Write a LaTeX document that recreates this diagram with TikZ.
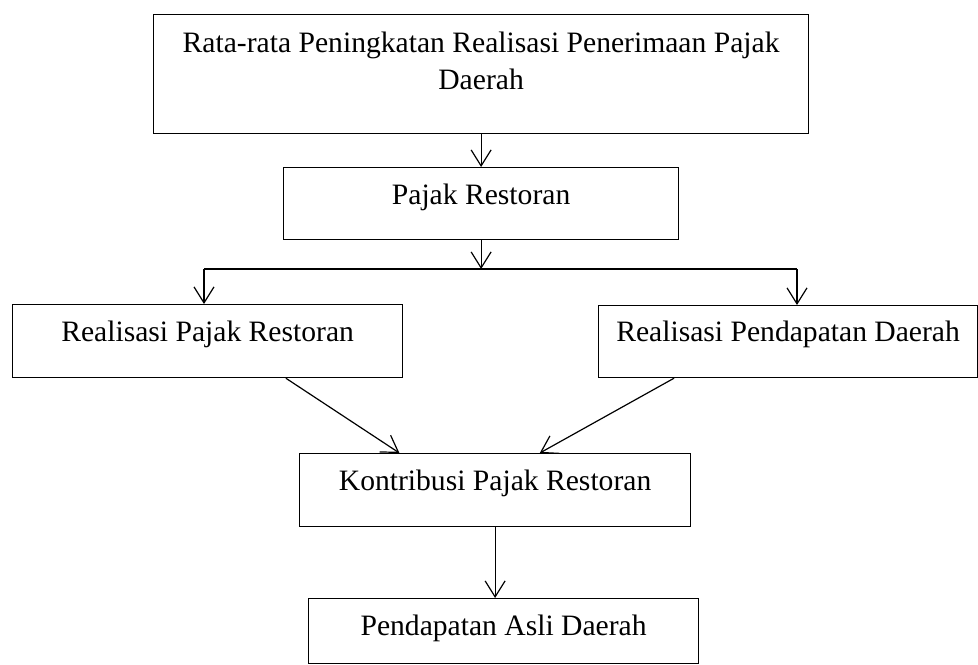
\documentclass[tikz,border=0pt]{standalone}
\usepackage{fontspec}
\setmainfont{Liberation Serif}
\usetikzlibrary{arrows.meta,calc}

\begin{document}
\begin{tikzpicture}[x=0.75pt,y=-0.75pt,>={Straight Barb[length=12pt,width=15pt]},
  box/.style={draw,line width=0.9pt,inner sep=0pt,anchor=north west,
    font=\fontsize{22.2}{27.75}\selectfont},
  conn/.style={line width=0.9pt}]
\useasboundingbox (0,0) rectangle (978,664);
% top block
\node[box,minimum width=491.25pt,text height=28.5pt,text depth=60.75pt] (rata) at (153,14)
  {\begin{tabular}[t]{@{}c@{}}Rata-rata Peningkatan Realisasi Penerimaan Pajak\\Daerah\end{tabular}};
\node[box,minimum width=296.25pt,text height=27.75pt,text depth=26.25pt] (pajak) at (283,167) {Pajak Restoran};
% two sources
\node[box,minimum width=292.5pt,text height=27.75pt,text depth=27pt] (realpajak) at (12,304) {Realisasi Pajak Restoran};
\node[box,minimum width=284.25pt,text height=27pt,text depth=27pt] (realpad) at (598,305) {Realisasi Pendapatan Daerah};
% result blocks
\node[box,minimum width=293.25pt,text height=27.75pt,text depth=27pt] (kontrib) at (299,453) {Kontribusi Pajak Restoran};
\node[box,minimum width=292.5pt,text height=27.75pt,text depth=21pt] (pad) at (308,598) {Pendapatan Asli Daerah};
% branch
\coordinate (brL) at (204,269);
\coordinate (brR) at (797,269);
\draw[conn,->] (rata.south) -- (pajak.north);
\draw[conn,->] (pajak.south) -- (pajak.south |- brL);
\draw[conn] (brL) -- (brR);
\draw[conn,->] (brL) -- (brL |- realpajak.north);
\draw[conn,->] (brR) -- (brR |- realpad.north);
% into kontribusi
\draw[conn,->] ($(realpajak.south west)!0.7!(realpajak.south east)$) -- ($(kontrib.north west)!0.256!(kontrib.north east)$);
\draw[conn,->] ($(realpad.south west)!0.2!(realpad.south east)$) -- ($(kontrib.north west)!0.614!(kontrib.north east)$);
\draw[conn,->] (kontrib.south) -- (kontrib.south |- pad.north);
\end{tikzpicture}
\end{document}
